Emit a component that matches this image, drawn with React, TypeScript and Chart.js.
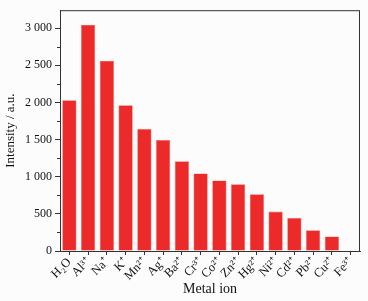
import React, { useEffect, useRef } from "react";
import { Chart, registerables } from "chart.js";

Chart.register(...registerables);

const categories = ["H₂O", "Al³⁺", "Na⁺", "K⁺", "Mn²⁺", "Ag⁺", "Ba²⁺", "Cr³⁺", "Co²⁺", "Zn²⁺", "Hg²⁺", "Ni²⁺", "Cd²⁺", "Pb²⁺", "Cu²⁺", "Fe³⁺"];
const intensity = [2030, 3045, 2560, 1962, 1644, 1494, 1206, 1043, 950, 897, 765, 530, 447, 278, 195, 0];
const yMajorTicks = [0, 500, 1000, 1500, 2000, 2500, 3000];
const yMinorTicks = [250, 750, 1250, 1750, 2250, 2750, 3250];

const FONT = "'Liberation Serif', 'Times New Roman', serif";
const AXIS = "#333333";

export default function App() {
  const ref = useRef<HTMLCanvasElement | null>(null);
  useEffect(() => {
    if (!ref.current) return;
    const framePlugin = {
      id: "frame",
      afterDraw(chart: any) {
        const { ctx, chartArea } = chart;
        const y = chart.scales.y;
        ctx.save();
        ctx.strokeStyle = AXIS;
        ctx.lineWidth = 1;
        ctx.strokeRect(chartArea.left + 0.5, chartArea.top + 0.5, chartArea.right - chartArea.left - 1, chartArea.bottom - chartArea.top);
        ctx.beginPath();
        for (const v of yMinorTicks) {
          if (v > y.max) continue;
          const py = Math.round(y.getPixelForValue(v)) + 0.5;
          ctx.moveTo(chartArea.left - 3, py);
          ctx.lineTo(chartArea.left, py);
        }
        ctx.stroke();
        ctx.restore();
      },
    };
    const chart = new Chart(ref.current, {
      type: "bar",
      data: {
        labels: categories,
        datasets: [
          {
            data: intensity,
            backgroundColor: "#ed2a2a",
            borderColor: "#f26a6a",
            borderWidth: 0.6,
            categoryPercentage: 0.76,
            barPercentage: 1,
          },
        ],
      },
      options: {
        animation: false,
        responsive: false,
        maintainAspectRatio: false,
        layout: { padding: { left: 3, top: 7, right: 8, bottom: 0 } },
        plugins: { legend: { display: false }, tooltip: { enabled: false } },
        scales: {
          x: {
            offset: true,
            grid: { display: true, drawOnChartArea: false, offset: false, tickLength: 4, tickColor: AXIS, color: AXIS },
            border: { color: AXIS, width: 1 },
            ticks: {
              minRotation: 45,
              maxRotation: 45,
              autoSkip: false,
              padding: 0,
              color: "#111",
              font: { family: FONT, size: 12.5 },
            },
            title: { display: true, text: "Metal ion", color: "#111", font: { family: FONT, size: 14 }, padding: { top: 0, bottom: 3 } },
            afterFit(scale: any) {
              scale.height = 50;
            },
          },
          y: {
            min: 0,
            max: 3240,
            grid: { display: true, drawOnChartArea: false, tickLength: 5, tickColor: AXIS, color: AXIS },
            border: { color: AXIS, width: 1 },
            afterBuildTicks(scale: any) {
              scale.ticks = yMajorTicks.map((v) => ({ value: v }));
            },
            ticks: {
              padding: 3,
              color: "#111",
              font: { family: FONT, size: 12 },
              callback: (v: any) => String(v).replace(/\B(?=(\d{3})+(?!\d))/g, " "),
            },
            title: { display: true, text: "Intensity / a.u.", color: "#111", font: { family: FONT, size: 13 }, padding: { top: 0, bottom: 0 } },
            afterFit(scale: any) {
              scale.width = 57;
            },
          },
        },
      },
      plugins: [framePlugin],
    });
    return () => chart.destroy();
  }, []);
  return (
    <div style={{ position: "fixed", left: 0, top: 0, width: 368, height: 301, background: "#fcfcfc" }}>
      <canvas ref={ref} width={368} height={301} style={{ display: "block", width: 368, height: 301 }} />
    </div>
  );
}
